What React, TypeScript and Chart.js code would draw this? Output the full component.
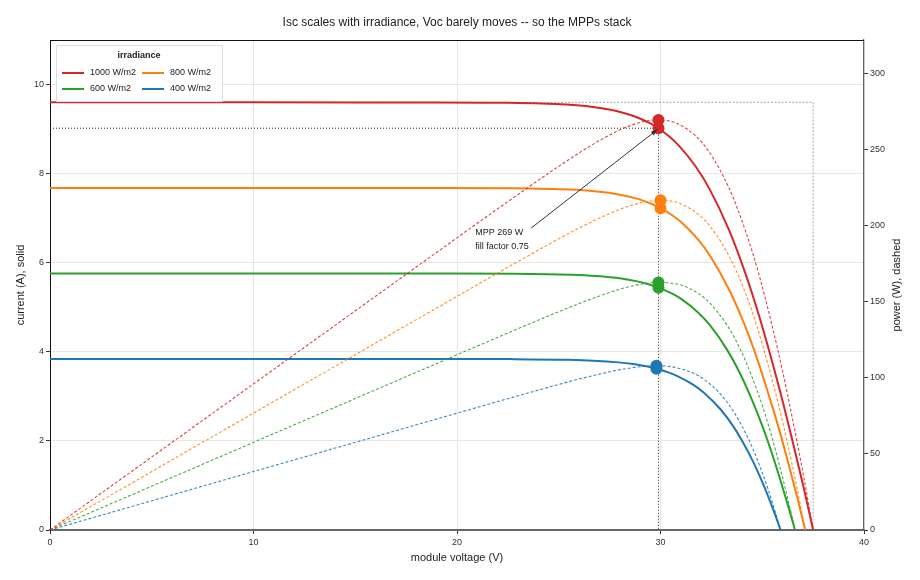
import React, { useEffect, useRef } from 'react';
import { Chart, registerables } from 'chart.js';

Chart.register(...registerables);

// voltage (V), current (A), power (W), per irradiance level
const V_1000 = [0, 10, 18.5, 22.53, 25.36, 26.59, 27.83, 28.57, 29.1, 29.52, 29.87, 30.43, 30.88, 31.73, 32.38, 33.38, 34.17, 34.85, 35.45, 36.01, 36.53, 37.03, 37.5];
const I_1000 = [9.6, 9.6, 9.599, 9.59, 9.552, 9.504, 9.408, 9.312, 9.216, 9.12, 9.024, 8.832, 8.64, 8.16, 7.68, 6.72, 5.76, 4.8, 3.84, 2.88, 1.92, 0.96, 0];
const P_1000 = [0, 96.0, 177.6, 216.1, 242.2, 252.7, 261.8, 266.0, 268.2, 269.2, 269.5, 268.8, 266.8, 258.9, 248.7, 224.3, 196.8, 167.3, 136.1, 103.7, 70.1, 35.5, 0];

const V_800 = [0, 10, 18.69, 22.72, 25.55, 26.77, 28.01, 28.74, 29.27, 29.68, 30.02, 30.57, 31.01, 31.83, 32.45, 33.39, 34.13, 34.75, 35.29, 35.8, 36.26, 36.7, 37.11];
const I_800 = [7.68, 7.68, 7.679, 7.672, 7.642, 7.603, 7.526, 7.45, 7.373, 7.296, 7.219, 7.066, 6.912, 6.528, 6.144, 5.376, 4.608, 3.84, 3.072, 2.304, 1.536, 0.768, 0];
const P_800 = [0, 76.8, 143.5, 174.3, 195.3, 203.5, 210.8, 214.1, 215.8, 216.5, 216.7, 216.0, 214.3, 207.8, 199.4, 179.5, 157.3, 133.4, 108.4, 82.5, 55.7, 28.2, 0];

const V_600 = [0, 10, 18.76, 22.79, 25.62, 26.84, 28.07, 28.8, 29.32, 29.73, 30.06, 30.6, 31.03, 31.82, 32.41, 33.29, 33.97, 34.53, 35.03, 35.47, 35.87, 36.25, 36.61];
const I_600 = [5.76, 5.76, 5.759, 5.754, 5.731, 5.702, 5.645, 5.587, 5.53, 5.472, 5.414, 5.299, 5.184, 4.896, 4.608, 4.032, 3.456, 2.88, 2.304, 1.728, 1.152, 0.576, 0];
const P_600 = [0, 57.6, 108.0, 131.1, 146.8, 153.0, 158.5, 160.9, 162.1, 162.7, 162.7, 162.1, 160.9, 155.8, 149.3, 134.2, 117.4, 99.4, 80.7, 61.3, 41.3, 20.9, 0];

const V_400 = [0, 10, 18.63, 22.66, 25.48, 26.7, 27.93, 28.65, 29.16, 29.56, 29.89, 30.42, 30.83, 31.6, 32.16, 32.99, 33.61, 34.11, 34.55, 34.93, 35.28, 35.6, 35.9];
const I_400 = [3.84, 3.84, 3.84, 3.836, 3.821, 3.802, 3.763, 3.725, 3.686, 3.648, 3.61, 3.533, 3.456, 3.264, 3.072, 2.688, 2.304, 1.92, 1.536, 1.152, 0.768, 0.384, 0];
const P_400 = [0, 38.4, 71.5, 86.9, 97.4, 101.5, 105.1, 106.7, 107.5, 107.8, 107.9, 107.5, 106.5, 103.1, 98.8, 88.7, 77.4, 65.5, 53.1, 40.2, 27.1, 13.7, 0];

const LEVELS = ['1000 W/m2', '800 W/m2', '600 W/m2', '400 W/m2'];
const COLORS = ['#d62728', '#ff7f0e', '#2ca02c', '#1f77b4'];

// maximum power points, same order as LEVELS
const MPP_V = [29.9, 30.0, 29.9, 29.8];
const MPP_I = [9.02, 7.22, 5.44, 3.62];
const MPP_P = [269.5, 216.7, 162.7, 107.9];

const REF_ISC = 9.6;
const REF_VOC = 37.5;
const NOTE_LINES = ['MPP 269 W', 'fill factor 0.75'];

const X_TICKS = [0, 10, 20, 30, 40];
const Y_TICKS = [0, 2, 4, 6, 8, 10];
const Y2_TICKS = [0, 50, 100, 150, 200, 250, 300];

const FONT = '"Liberation Sans", Arial, sans-serif';

const pts = (xs: number[], ys: number[]) => xs.map((x, i) => ({ x, y: ys[i] }));

const overlay = {
  id: 'overlay',
  beforeDatasetsDraw(chart: any) {
    const { ctx, scales } = chart;
    const x = scales.x, y = scales.y;
    ctx.save();
    ctx.lineWidth = 1;
    ctx.strokeStyle = '#aaaaaa';
    ctx.setLineDash([2, 1.5]);
    ctx.beginPath();
    ctx.moveTo(x.getPixelForValue(0), y.getPixelForValue(REF_ISC));
    ctx.lineTo(x.getPixelForValue(REF_VOC), y.getPixelForValue(REF_ISC));
    ctx.lineTo(x.getPixelForValue(REF_VOC), y.getPixelForValue(0));
    ctx.stroke();
    ctx.strokeStyle = '#222';
    ctx.setLineDash([1, 2]);
    ctx.beginPath();
    ctx.moveTo(x.getPixelForValue(0), y.getPixelForValue(MPP_I[0]));
    ctx.lineTo(x.getPixelForValue(MPP_V[0]), y.getPixelForValue(MPP_I[0]));
    ctx.lineTo(x.getPixelForValue(MPP_V[0]), y.getPixelForValue(0));
    ctx.stroke();
    ctx.restore();
  },
  afterDatasetsDraw(chart: any) {
    const { ctx, scales } = chart;
    const x = scales.x, y = scales.y;
    const x0 = x.getPixelForValue(23.65), y0 = y.getPixelForValue(6.78);
    const x1 = x.getPixelForValue(MPP_V[0] - 0.05), y1 = y.getPixelForValue(MPP_I[0] - 0.03);
    ctx.save();
    ctx.strokeStyle = '#333';
    ctx.fillStyle = '#333';
    ctx.lineWidth = 1;
    ctx.beginPath();
    ctx.moveTo(x0, y0);
    ctx.lineTo(x1, y1);
    ctx.stroke();
    const ang = Math.atan2(y1 - y0, x1 - x0);
    ctx.beginPath();
    ctx.moveTo(x1, y1);
    ctx.lineTo(x1 - 7 * Math.cos(ang - 0.35), y1 - 7 * Math.sin(ang - 0.35));
    ctx.lineTo(x1 - 7 * Math.cos(ang + 0.35), y1 - 7 * Math.sin(ang + 0.35));
    ctx.closePath();
    ctx.fill();
    ctx.fillStyle = '#222';
    ctx.font = `9px ${FONT}`;
    ctx.textAlign = 'left';
    ctx.textBaseline = 'middle';
    const tx = x.getPixelForValue(20.9), ty = y.getPixelForValue(6.68);
    NOTE_LINES.forEach((t, i) => ctx.fillText(t, tx, ty + i * 14));
    ctx.restore();
  },
  afterDraw(chart: any) {
    const { ctx, chartArea } = chart;
    const { left, right, top, bottom } = chartArea;
    ctx.save();
    // top frame line
    ctx.strokeStyle = '#111';
    ctx.lineWidth = 1;
    ctx.beginPath();
    ctx.moveTo(left, top + 0.5);
    ctx.lineTo(right, top + 0.5);
    ctx.stroke();

    ctx.fillStyle = '#222';
    ctx.textAlign = 'center';
    ctx.textBaseline = 'middle';
    ctx.font = `12px ${FONT}`;
    ctx.fillText('Isc scales with irradiance, Voc barely moves -- so the MPPs stack', (left + right) / 2, 23);
    ctx.font = `11px ${FONT}`;
    ctx.fillText('module voltage (V)', (left + right) / 2, 558);
    const midY = (top + bottom) / 2;
    ctx.save();
    ctx.translate(21, midY);
    ctx.rotate(-Math.PI / 2);
    ctx.fillText('current (A), solid', 0, 0);
    ctx.restore();
    ctx.save();
    ctx.translate(897, midY);
    ctx.rotate(-Math.PI / 2);
    ctx.fillText('power (W), dashed', 0, 0);
    ctx.restore();

    // legend
    const bx = 56, by = 45, bw = 166, bh = 56;
    ctx.fillStyle = 'rgba(255,255,255,0.9)';
    ctx.strokeStyle = '#dddddd';
    ctx.lineWidth = 1;
    ctx.beginPath();
    ctx.rect(bx + 0.5, by + 0.5, bw, bh);
    ctx.fill();
    ctx.stroke();
    ctx.fillStyle = '#222';
    ctx.font = `bold 9px ${FONT}`;
    ctx.fillText('irradiance', bx + bw / 2, by + 11);
    ctx.font = `9px ${FONT}`;
    ctx.textAlign = 'left';
    LEVELS.forEach((label, i) => {
      const col = i % 2, row = Math.floor(i / 2);
      const lx = 62 + col * 80, ly = 73 + row * 16;
      ctx.strokeStyle = COLORS[i];
      ctx.lineWidth = 2;
      ctx.beginPath();
      ctx.moveTo(lx, ly);
      ctx.lineTo(lx + 22, ly);
      ctx.stroke();
      ctx.fillStyle = '#222';
      ctx.fillText(label, lx + 28, ly);
    });
    ctx.restore();
  },
};

const App: React.FC = () => {
  const canvasRef = useRef<HTMLCanvasElement>(null);
  const chartRef = useRef<Chart | null>(null);

  useEffect(() => {
    if (!canvasRef.current) return;
    if (chartRef.current) chartRef.current.destroy();

    const ivSets = [
      pts(V_1000, I_1000),
      pts(V_800, I_800),
      pts(V_600, I_600),
      pts(V_400, I_400),
    ];
    const pvSets = [
      pts(V_1000, P_1000),
      pts(V_800, P_800),
      pts(V_600, P_600),
      pts(V_400, P_400),
    ];

    const datasets: any[] = [];
    pvSets.forEach((data, i) => {
      datasets.push({
        label: LEVELS[i] + ' power',
        data,
        yAxisID: 'y2',
        showLine: true,
        borderColor: COLORS[i] + 'dd',
        borderWidth: 1.1,
        borderDash: [3, 2],
        pointRadius: 0,
        cubicInterpolationMode: 'monotone',
      });
    });
    ivSets.forEach((data, i) => {
      datasets.push({
        label: LEVELS[i],
        data,
        yAxisID: 'y',
        showLine: true,
        borderColor: COLORS[i],
        borderWidth: 2,
        pointRadius: 0,
        cubicInterpolationMode: 'monotone',
      });
    });
    datasets.push({
      label: 'MPP current',
      data: pts(MPP_V, MPP_I),
      yAxisID: 'y',
      showLine: false,
      pointRadius: 6,
      pointBackgroundColor: COLORS,
      pointBorderColor: COLORS,
      pointBorderWidth: 0,
    });
    datasets.push({
      label: 'MPP power',
      data: pts(MPP_V, MPP_P),
      yAxisID: 'y2',
      showLine: false,
      pointRadius: 6,
      pointBackgroundColor: COLORS,
      pointBorderColor: COLORS,
      pointBorderWidth: 0,
    });

    const tickFont = { family: FONT, size: 9 };

    chartRef.current = new Chart(canvasRef.current, {
      type: 'scatter',
      data: { datasets },
      plugins: [overlay],
      options: {
        responsive: false,
        animation: false,
        layout: { padding: { top: 40, left: 0, right: 0, bottom: 0 } },
        plugins: { legend: { display: false }, tooltip: { enabled: false } },
        scales: {
          x: {
            type: 'linear',
            min: 0,
            max: 40,
            afterBuildTicks: (s: any) => { s.ticks = X_TICKS.map((value) => ({ value })); },
            afterFit: (s: any) => { s.height = 50; },
            grid: { color: '#e6e6e6', tickColor: '#333', tickLength: 4 },
            border: { color: '#666', width: 2 },
            ticks: { font: tickFont, color: '#333', padding: 3, maxRotation: 0 },
          },
          y: {
            type: 'linear',
            position: 'left',
            min: 0,
            max: 11,
            afterBuildTicks: (s: any) => { s.ticks = Y_TICKS.map((value) => ({ value })); },
            afterFit: (s: any) => { s.width = 50; },
            grid: { color: '#e6e6e6', tickColor: '#333', tickLength: 4 },
            border: { color: '#111', width: 1 },
            ticks: { font: tickFont, color: '#333', padding: 2 },
          },
          y2: {
            type: 'linear',
            position: 'right',
            min: 0,
            max: 322,
            afterBuildTicks: (s: any) => { s.ticks = Y2_TICKS.map((value) => ({ value })); },
            afterFit: (s: any) => { s.width = 56; },
            grid: { display: true, drawOnChartArea: false, tickColor: '#333', tickLength: 4 },
            border: { color: '#666', width: 1.2 },
            ticks: { font: tickFont, color: '#333', padding: 2 },
          },
        },
      } as any,
    });

    return () => {
      if (chartRef.current) {
        chartRef.current.destroy();
        chartRef.current = null;
      }
    };
  }, []);

  return (
    <div style={{ position: 'fixed', left: 0, top: 0, width: 920, height: 580, background: '#fff' }}>
      <canvas ref={canvasRef} width={920} height={580} style={{ width: 920, height: 580 }}></canvas>
    </div>
  );
};

export default App;
